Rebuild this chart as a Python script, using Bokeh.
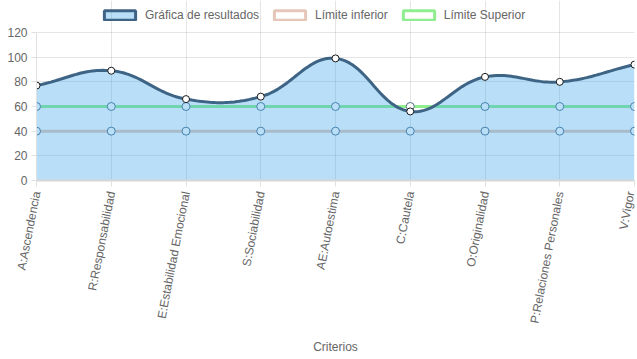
import numpy as np
from bokeh.plotting import figure
from bokeh.models import ColumnDataSource, FixedTicker, Legend, LegendItem, Range1d
from bokeh.embed import file_html
from bokeh.resources import INLINE

categorias = ["A:Ascendencia", "R:Responsabilidad", "E:Estabilidad Emocional",
              "S:Sociabilidad", "AE:Autoestima", "C:Cautela", "O:Originalidad",
              "P:Relaciones Personales", "V:Vigor"]
resultados = [77, 89, 66, 68, 99, 56, 84, 80, 94]
limite_inferior = [40, 40, 40, 40, 40, 40, 40, 40, 40]
limite_superior = [60, 60, 60, 60, 60, 60, 60, 60, 60]
y_ticks = [0, 20, 40, 60, 80, 100, 120]

FONT = "Liberation Sans"
TXT = "#666666"

n = len(categorias)
xs = np.arange(n, dtype=float)

# Chart.js-like cardinal spline (tension 0.4) computed in pixel-ish space
SX, SY = 74.75, 1.233
def spline(xv, yv, tension=0.4, steps=30):
    px = np.asarray(xv) * SX
    py = np.asarray(yv, dtype=float) * SY
    m = len(px)
    cp_prev = np.zeros((m, 2)); cp_next = np.zeros((m, 2))
    for i in range(m):
        pi_ = max(i - 1, 0); ni = min(i + 1, m - 1)
        d01 = np.hypot(px[i] - px[pi_], py[i] - py[pi_])
        d12 = np.hypot(px[ni] - px[i], py[ni] - py[i])
        tot = d01 + d12
        s01 = d01 / tot if tot else 0
        s12 = d12 / tot if tot else 0
        fa, fb = tension * s01, tension * s12
        dx, dy = px[ni] - px[pi_], py[ni] - py[pi_]
        cp_prev[i] = (px[i] - fa * dx, py[i] - fa * dy)
        cp_next[i] = (px[i] + fb * dx, py[i] + fb * dy)
    ox, oy = [px[0]], [py[0]]
    t = np.linspace(0, 1, steps)[1:]
    for i in range(m - 1):
        p0 = np.array([px[i], py[i]]); p3 = np.array([px[i + 1], py[i + 1]])
        p1 = cp_next[i]; p2 = cp_prev[i + 1]
        for tt in t:
            b = ((1 - tt) ** 3) * p0 + 3 * ((1 - tt) ** 2) * tt * p1 + 3 * (1 - tt) * tt ** 2 * p2 + tt ** 3 * p3
            ox.append(b[0]); oy.append(b[1])
    return np.array(ox) / SX, np.array(oy) / SY

cx, cy = spline(xs, resultados)

# frame spans y 0..180; value 120 sits at y 32
YMAX = 120 * 180 / 148

p = figure(width=637, height=359, output_backend="svg", toolbar_location=None,
           x_range=Range1d(0, n - 1), y_range=Range1d(0, YMAX),
           min_border_left=36, min_border_right=3, min_border_top=0, min_border_bottom=179)
p.outline_line_color = None
p.background_fill_color = "white"

# limit lines (drawn beneath the translucent fill)
p.line(xs, limite_superior, line_color="#90ee90", line_width=3)
p.line(xs, limite_inferior, line_color="#e6c6b8", line_width=3)
p.scatter(xs, limite_superior, size=8, fill_color="white", line_color="#52708c", line_width=1)
p.scatter(xs, limite_inferior, size=8, fill_color="white", line_color="#52708c", line_width=1)

# result area + line
p.varea(x=cx, y1=0, y2=cy, fill_color="#36a2eb", fill_alpha=0.35)
p.line(cx, cy, line_color="#3e6485", line_width=3)
p.scatter(xs, resultados, size=7, fill_color="white", line_color="#1a1a1a", line_width=1)

# legend-only renderers (NaN data, nothing drawn in the plot)
nan = float("nan")
def proxy(**kw):
    src = ColumnDataSource(dict(left=[nan], right=[nan], top=[nan], bottom=[nan]))
    return p.quad(source=src, left="left", right="right", top="top", bottom="bottom", **kw)
r1 = proxy(fill_color="#36a2eb", fill_alpha=0.35, line_color="#3e6485", line_width=3)
r2 = proxy(fill_color="white", line_color="#e6c6b8", line_width=3)
r3 = proxy(fill_color="white", line_color="#90ee90", line_width=3)
legend = Legend(items=[LegendItem(label="Gráfica de resultados", renderers=[r1]),
                       LegendItem(label="Límite inferior", renderers=[r2]),
                       LegendItem(label="Límite Superior", renderers=[r3])],
                orientation="horizontal", location=(64, 158),
                glyph_width=39, glyph_height=12, label_text_font=FONT,
                label_text_font_size="12px", label_text_color=TXT,
                label_standoff=6, spacing=11, padding=0, margin=0,
                border_line_color=None, background_fill_alpha=0, label_height=12)
p.add_layout(legend)

# grids (limited to 0..120)
p.xgrid.ticker = FixedTicker(ticks=list(range(n)))
p.xgrid.grid_line_color = "#000000"; p.xgrid.grid_line_alpha = 0.1
p.xgrid.bounds = (0, 120)
p.ygrid.ticker = FixedTicker(ticks=y_ticks)
p.ygrid.grid_line_color = "#000000"; p.ygrid.grid_line_alpha = 0.1

# axes
p.xaxis.ticker = FixedTicker(ticks=list(range(n)))
p.xaxis.major_label_overrides = {i: c for i, c in enumerate(categorias)}
p.xaxis.major_label_orientation = 1.38
p.xaxis.axis_line_color = "#d6d6d6"; p.xaxis.axis_line_width = 2
p.xaxis.major_tick_line_color = "#e0e0e0"
p.xaxis.major_tick_out = 6; p.xaxis.major_tick_in = 0
p.xaxis.minor_tick_line_color = None
p.xaxis.axis_label = "Criterios"
p.xaxis.axis_label_text_font_style = "normal"
p.xaxis.axis_label_standoff = 11

p.yaxis.ticker = FixedTicker(ticks=y_ticks)
p.yaxis.bounds = (0, 120)
p.yaxis.axis_line_color = "#e0e0e0"
p.yaxis.major_tick_line_color = "#e0e0e0"
p.yaxis.major_tick_out = 5; p.yaxis.major_tick_in = 0
p.yaxis.minor_tick_line_color = None
p.yaxis.major_label_standoff = 4

for ax in (p.xaxis, p.yaxis):
    ax.major_label_text_font = FONT
    ax.major_label_text_font_size = "12px"
    ax.major_label_text_color = TXT
    ax.axis_label_text_font = FONT
    ax.axis_label_text_font_size = "12px"
    ax.axis_label_text_color = TXT

open("out.html", "w").write(file_html(p, INLINE))
